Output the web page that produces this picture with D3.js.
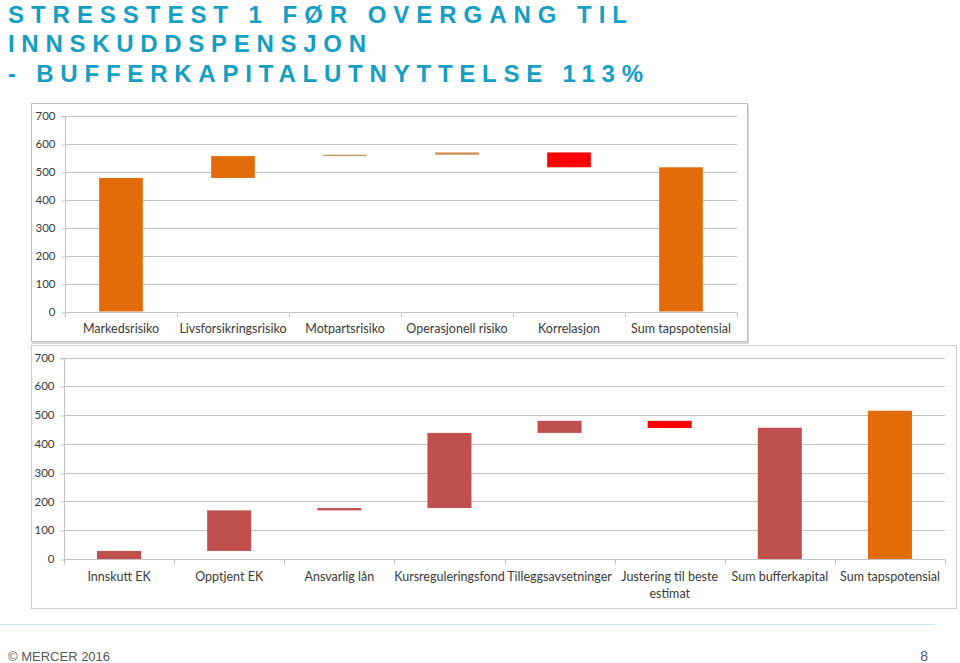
<!DOCTYPE html>
<html>
<head>
<meta charset="utf-8">
<script src="https://cdn.jsdelivr.net/npm/d3@7"></script>
<style>
  html, body { margin: 0; padding: 0; background: #ffffff; }
  svg { display: block; }
</style>
</head>
<body>
<svg id="chart" width="960" height="663"></svg>
<script>
// ---------------- DATA ----------------
const titleLines = ["STRESSTEST 1 FØR OVERGANG TIL", "INNSKUDDSPENSJON", "- BUFFERKAPITALUTNYTTELSE 113%"];

const topCategories = ["Markedsrisiko", "Livsforsikringsrisiko", "Motpartsrisiko", "Operasjonell risiko", "Korrelasjon", "Sum tapspotensial"];
const topDeltas = [477, 78, 5, 8, -53, 515];
const topKinds = ["total", "increase", "minor", "minor2", "decrease", "total"];

const bottomCategories = ["Innskutt EK", "Opptjent EK", "Ansvarlig lån", "Kursreguleringsfond", "Tilleggsavsetninger", ["Justering til beste", "estimat"], "Sum bufferkapital", "Sum tapspotensial"];
const bottomDeltas = [28, 141, 8, 261, 42, -25, 456, 515];
const bottomKinds = ["increase", "increase", "increase", "increase", "increase", "decrease", "total", "grand"];

const yTicks = [0, 100, 200, 300, 400, 500, 600, 700];
const footerLeft = "© MERCER 2016";
const footerRight = "8";

// ---------------- STYLE ----------------
const titleColor = "#149FC2";
const gridColor = "#C3C3C3";
const labelColor = "#3A3A3A";
const labelFont = "Lato, 'Open Sans', sans-serif";
const topColor = { total: "#E36C0A", increase: "#E36C0A", minor: "#BE9A62", minor2: "#CD8A45", decrease: "#FF0000" };
const bottomColor = { increase: "#C0504D", total: "#C0504D", decrease: "#FF0000", grand: "#E36C0A" };

const svg = d3.select("#chart");

// waterfall helper: totals are full bars from 0 and set the running level
function waterfall(deltas, kinds) {
  let run = 0;
  return deltas.map((d, i) => {
    const k = kinds[i];
    if (k === "total" || k === "grand") {
      run = d;
      return { start: 0, end: d };
    }
    const s = run;
    run += d;
    return { start: s, end: run };
  });
}

// ---------------- TITLE ----------------
const titleWidths = [619, 358, 635];
const titleBase = [23, 52, 82];
svg.selectAll("text.title").data(titleLines).join("text")
  .attr("class", "title")
  .attr("x", 8)
  .attr("y", (d, i) => titleBase[i])
  .attr("textLength", (d, i) => titleWidths[i])
  .attr("lengthAdjust", "spacing")
  .attr("font-family", "'Liberation Sans', Arial, sans-serif")
  .attr("font-weight", "bold")
  .attr("font-size", 24)
  .attr("fill", titleColor)
  .text(d => d);

// ---------------- generic chart drawer ----------------
function drawChart(g, cfg) {
  const x = d3.scaleBand().domain(cfg.categories.map((c, i) => i)).range([cfg.x0, cfg.x1]).padding(0);
  const y = d3.scaleLinear().domain([0, 700]).range([cfg.y0, cfg.y1]);

  // gridlines
  g.append("g").selectAll("line").data(yTicks.filter(t => t > 0)).join("line")
    .attr("x1", cfg.x0).attr("x2", cfg.x1)
    .attr("y1", d => Math.round(y(d)) + 0.5).attr("y2", d => Math.round(y(d)) + 0.5)
    .attr("stroke", gridColor).attr("stroke-width", 1);

  // y axis
  const yAxis = d3.axisLeft(y).tickValues(yTicks).tickSize(4).tickPadding(6).tickFormat(d3.format("d"));
  const ya = g.append("g").attr("transform", `translate(${cfg.x0 + 0.5},0)`).call(yAxis);
  ya.select(".domain").attr("stroke", gridColor).attr("d", `M-4,${Math.round(y(700)) + 0.5}H0V${Math.round(y(0)) + 0.5}`);
  ya.selectAll(".tick line").attr("stroke", gridColor).attr("transform", d => `translate(0,${Math.round(y(d)) + 0.5 - y(d)})`);
  ya.selectAll(".tick text").attr("fill", labelColor).attr("font-family", labelFont).attr("font-size", 11.5);

  // x axis baseline and boundary ticks
  const xa = d3.axisBottom(x).tickSize(0).tickPadding(cfg.labelPad).tickFormat(i => "");
  const xg = g.append("g").attr("transform", `translate(0,${Math.round(y(0)) + 0.5})`).call(xa);
  xg.select(".domain").attr("stroke", gridColor).attr("d", `M${cfg.x0},0H${cfg.x1}`);
  const bounds = cfg.categories.map((c, i) => x(i)).concat([cfg.x1]);
  xg.selectAll("line.bound").data(bounds).join("line")
    .attr("class", "bound")
    .attr("x1", d => Math.round(d) + 0.5).attr("x2", d => Math.round(d) + 0.5)
    .attr("y1", 0).attr("y2", 5)
    .attr("stroke", gridColor);
  xg.selectAll(".tick").each(function(i) {
    const lab = cfg.categories[i];
    const lines = Array.isArray(lab) ? lab : [lab];
    const t = d3.select(this).select("text").text(null)
      .attr("fill", labelColor).attr("font-family", labelFont).attr("font-size", cfg.labelSize)
      .attr("y", cfg.labelPad).attr("dy", null);
    lines.forEach((l, j) => {
      t.append("tspan").attr("x", 0).attr("dy", j === 0 ? "0.71em" : "1.3em").text(l);
    });
  });

  // bars
  const wf = waterfall(cfg.deltas, cfg.kinds);
  const bw = x.bandwidth() * cfg.barFrac;
  g.append("g").selectAll("rect").data(wf).join("rect")
    .attr("x", (d, i) => x(i) + (x.bandwidth() - bw) / 2)
    .attr("width", bw)
    .attr("y", d => y(Math.max(d.start, d.end)))
    .attr("height", d => Math.abs(y(d.start) - y(d.end)))
    .attr("fill", (d, i) => cfg.colors[cfg.kinds[i]]);
}

// ---------------- BOTTOM CHART (drawn first, below) ----------------
svg.append("rect").attr("x", 31.5).attr("y", 345.5).attr("width", 925).attr("height", 263)
  .attr("fill", "#ffffff").attr("stroke", "#CFCFCF");
drawChart(svg.append("g"), {
  categories: bottomCategories, deltas: bottomDeltas, kinds: bottomKinds, colors: bottomColor,
  x0: 64, x1: 945, y0: 559, y1: 357.5, barFrac: 0.4, labelPad: 13, labelSize: 12.5
});

// ---------------- TOP CHART ----------------
svg.append("rect").attr("x", 32).attr("y", 105).attr("width", 717).attr("height", 239)
  .attr("fill", "#D8D8D8");
svg.append("rect").attr("x", 31.5).attr("y", 103.5).attr("width", 716).attr("height", 238)
  .attr("fill", "#ffffff").attr("stroke", "#BDBDBD");
drawChart(svg.append("g"), {
  categories: topCategories, deltas: topDeltas, kinds: topKinds, colors: topColor,
  x0: 65, x1: 737, y0: 311.5, y1: 115.5, barFrac: 0.39, labelPad: 12, labelSize: 12.5
});

// ---------------- FOOTER ----------------
svg.append("line").attr("x1", 0).attr("x2", 935).attr("y1", 624.5).attr("y2", 624.5)
  .attr("stroke", "#C8E6EE").attr("stroke-width", 1);
svg.append("text").attr("x", 8).attr("y", 661)
  .attr("font-family", "'Liberation Sans', Arial, sans-serif").attr("font-size", 13)
  .attr("fill", "#595959").text(footerLeft);
svg.append("text").attr("x", 928).attr("y", 661).attr("text-anchor", "end")
  .attr("font-family", "'Liberation Sans', Arial, sans-serif").attr("font-size", 14)
  .attr("fill", "#595959").text(footerRight);
</script>
</body>
</html>
